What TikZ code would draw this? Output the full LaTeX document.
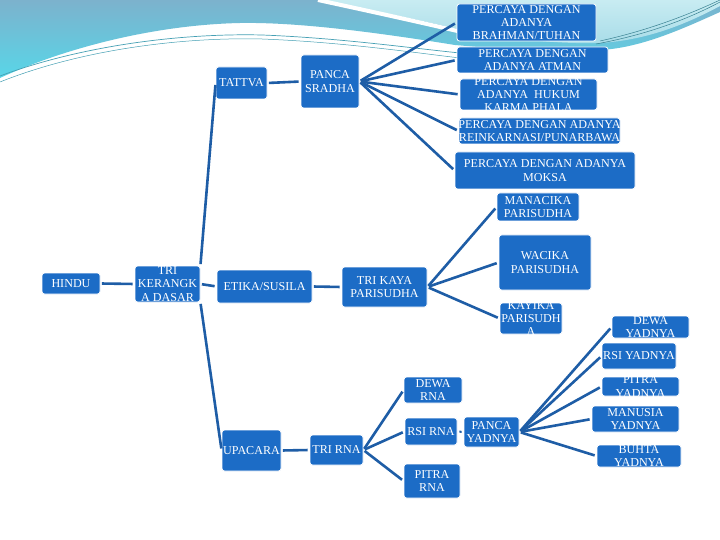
\documentclass[tikz,border=0pt]{standalone}
\usepackage{fontspec}
\setmainfont{Liberation Serif}
\definecolor{boxblue}{RGB}{28,108,198}
\definecolor{lineblue}{RGB}{30,93,166}
\definecolor{bandtop}{RGB}{124,178,205}
\definecolor{bandbot}{RGB}{88,214,232}
\definecolor{lightcyan}{RGB}{168,220,232}
\definecolor{lightcyan2}{RGB}{200,236,242}
\definecolor{tealline}{RGB}{70,160,180}
\newcommand{\mybox}[6]{%
  \node[bx, minimum width={(#4-#2)*1bp}, minimum height={(#5-#3)*1bp}] (#1) at ({(#2+#4)/2},{(#3+#5)/2}) {};
  \node[txt] (#1-t) at (#1.center) {#6};}
\tikzset{
  bx/.style={rectangle, rounded corners=2.5bp, fill=boxblue, draw=white, line width=0.8bp, inner sep=0pt},
  txt/.style={inner sep=0pt, text=white, align=center, font=\fontsize{12.1bp}{13.2bp}\selectfont},
  conn/.style={draw=lineblue, line width=2.6bp, shorten <=1.5bp, shorten >=2bp},
}
\begin{document}
\begin{tikzpicture}[x=1bp,y=-1bp]
\useasboundingbox (0,0) rectangle (720,540);
\fill[white] (0,0) rectangle (720,540);
% background band
\shade[top color=bandtop, bottom color=bandbot]
  (0,0) -- (720,0) -- (720,12)
  .. controls (680,30) and (640,48) .. (600,50)
  .. controls (530,52) and (490,48) .. (455,45)
  .. controls (380,33) and (300,22) .. (240,23)
  .. controls (150,25) and (60,50) .. (0,78) -- cycle;
\shade[top color=lightcyan2, bottom color=lightcyan]
  (322,0) .. controls (380,12) and (430,22) .. (470,32)
  .. controls (520,40) and (560,44) .. (600,43)
  .. controls (650,40) and (690,22) .. (720,6) -- (720,0) -- cycle;
\draw[white, line width=4bp] (318,0) .. controls (378,13) and (428,24) .. (470,34);
\draw[white, line width=3bp] (0,80) .. controls (80,48) and (180,34) .. (262,36)
  .. controls (340,40) and (410,50) .. (460,56);
\draw[tealline, line width=0.7bp] (0,76) .. controls (80,46) and (180,33) .. (262,35)
  .. controls (340,38) and (410,48) .. (460,53);
\draw[tealline, line width=0.5bp] (0,82) .. controls (80,50) and (180,37) .. (262,39)
  .. controls (340,42) and (410,52) .. (460,58);
\draw[tealline!80!black, line width=0.5bp] (596,44) .. controls (650,34) and (690,18) .. (720,2);
\draw[tealline!80!black, line width=0.5bp] (600,41) .. controls (650,30) and (690,14) .. (720,0);
% boxes
\mybox{brahman}{457}{4}{596}{41}{PERCAYA DENGAN\\ADANYA\\BRAHMAN/TUHAN}
\mybox{atman}{457}{47}{608}{73}{PERCAYA DENGAN\\ADANYA ATMAN}
\mybox{hukum}{460}{79}{597}{110}{PERCAYA DENGAN\\ADANYA\ \ HUKUM\\KARMA PHALA}
\mybox{reink}{459}{118}{620}{144}{PERCAYA DENGAN ADANYA\\REINKARNASI/PUNARBAWA}
\mybox{moksa}{455}{152}{635}{189}{PERCAYA DENGAN ADANYA\\MOKSA}
\mybox{tattva}{216}{67}{267}{99}{TATTVA}
\mybox{panca}{301}{55}{359}{108}{PANCA\\SRADHA}
\mybox{hindu}{42}{273}{100}{294}{HINDU}
\mybox{tri}{135}{266}{200}{302}{TRI\\KERANGK\\A DASAR}
\mybox{etika}{217}{270}{312}{303}{ETIKA/SUSILA}
\mybox{trikaya}{342}{267}{427}{307}{TRI KAYA\\PARISUDHA}
\mybox{manacika}{497}{193}{579}{221}{MANACIKA\\PARISUDHA}
\mybox{wacika}{499}{235}{591}{290}{WACIKA\\PARISUDHA}
\mybox{kayika}{500}{303}{562}{334}{KAYIKA\\PARISUDH\\A}
\mybox{upacara}{222}{430}{281}{471}{UPACARA}
\mybox{trirna}{310}{435}{363}{465}{TRI RNA}
\mybox{dewarna}{404}{377}{462}{403}{DEWA\\RNA}
\mybox{rsirna}{405}{418}{457}{445}{RSI RNA}
\mybox{pitrarna}{404}{464}{460}{498}{PITRA\\RNA}
\mybox{pyad}{464}{417}{519}{447}{PANCA\\YADNYA}
\mybox{dewayad}{612}{316}{689}{338}{DEWA\\YADNYA}
\mybox{rsiyad}{602}{343}{676}{369}{RSI YADNYA}
\mybox{pitrayad}{602}{377}{679}{396}{PITRA\\YADNYA}
\mybox{manusia}{592}{406}{679}{432}{MANUSIA\\YADNYA}
\mybox{buhta}{597}{445}{681}{467}{BUHTA\\YADNYA}
% connectors
\draw[conn] (hindu.east) -- (tri.west);
\draw[conn] (tri.north east) -- (tattva.west);
\draw[conn] (tri.east) -- (etika.west);
\draw[conn] (tri.south east) -- (upacara.west);
\draw[conn] (tattva.east) -- (panca.west);
\draw[conn] (etika.east) -- (trikaya.west);
\draw[conn] (upacara.east) -- (trirna.west);
\foreach \t in {brahman,atman,hukum,reink,moksa} \draw[conn] (panca.east) -- (\t.west);
\foreach \t in {manacika,wacika,kayika} \draw[conn] (trikaya.east) -- (\t.west);
\foreach \t in {dewarna,rsirna,pitrarna} \draw[conn] (trirna.east) -- (\t.west);
\draw[draw=lineblue, line width=2bp, shorten <=2bp, shorten >=2bp] (rsirna.east) -- (pyad.west);
\foreach \t in {dewayad,rsiyad,pitrayad,manusia,buhta} \draw[conn] (pyad.east) -- (\t.west);
\end{tikzpicture}
\end{document}
